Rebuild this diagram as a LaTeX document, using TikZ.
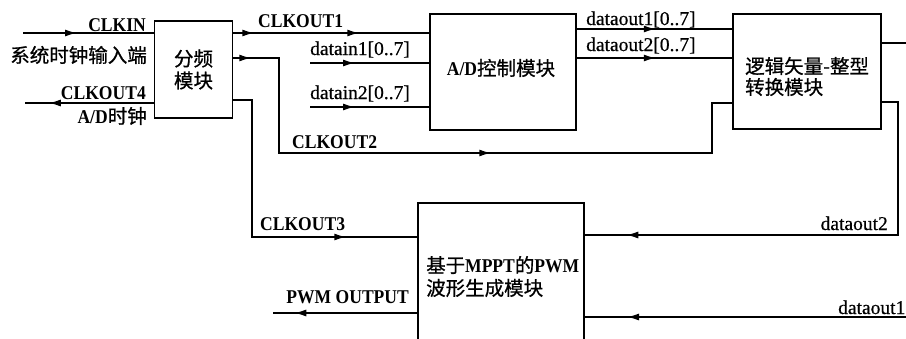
\documentclass[tikz,border=0pt]{standalone}
\usepackage{fontspec}
\setmainfont{Liberation Serif}
\newfontfamily\cjk[FakeBold=0.8]{Noto Sans CJK SC}
\newfontfamily\condb[FakeStretch=0.9]{Liberation Serif}
\newfontfamily\lowf[FakeBold=0.6]{Liberation Serif}
\usetikzlibrary{arrows.meta,decorations.markings}
\tikzset{
  wire/.style={line width=1.5pt},
  box/.style={draw, line width=1.5pt, inner sep=0pt},
  ma/.style={postaction={decorate, decoration={markings, mark=at position #1 with {\arrow{Latex[length=12pt,width=7pt]}}}}},
  capl/.style={inner sep=0pt, font=\fontsize{19.5}{22}\selectfont\condb\bfseries},
  lowl/.style={inner sep=0pt, font=\fontsize{19.5}{22}\selectfont\lowf},
  cjkl/.style={inner sep=0pt, font=\fontsize{19.5}{22.5}\selectfont\cjk, align=left},
}
\newcommand{\lat}[1]{{\condb\bfseries #1}}
\begin{document}
\begin{tikzpicture}[x=1pt,y=-1pt]
\clip (0,0) rectangle (906,338);
% boxes
\node[box, minimum width=78pt, minimum height=97pt, align=center, font=\fontsize{19.5}{22}\selectfont\cjk] (div) at (193.5,69.5) {分频\\模块};
\node[box, minimum width=146pt, minimum height=116pt] (ad) at (503,72) {};
\node[box, minimum width=148pt, minimum height=115pt] (lg) at (807,71.5) {};
\node[box, minimum width=166pt, minimum height=150pt] (pwm) at (501,278) {};
% box texts
\node[cjkl, anchor=center] (tad) at (501,68) {\lat{A/D}控制模块};
\node[cjkl, anchor=west] (tlg1) at (745,66) {逻辑矢量-整型};
\node[cjkl, anchor=west] (tlg2) at (745,87) {转换模块};
\node[cjkl, anchor=west] (tpw1) at (426,265) {基于\lat{MPPT}的\lat{PWM}};
\node[cjkl, anchor=west] (tpw2) at (426,288) {波形生成模块};
% coordinates
\coordinate (clkin0) at (23,33);
\coordinate (clk4e) at (25,103);
\coordinate (di1) at (310,63);
\coordinate (di2) at (310,107);
\coordinate (c2a) at (279,58);
\coordinate (c2b) at (279,153);
\coordinate (c2c) at (712,153);
\coordinate (c2d) at (712,103);
\coordinate (c3a) at (252,100);
\coordinate (c3b) at (252,237);
\coordinate (r1) at (906,43);
\coordinate (r2a) at (898,102);
\coordinate (r2b) at (898,235);
\coordinate (d1s) at (906,317);
\coordinate (pwmo) at (273,313);
% wires
\draw[wire, ma=54pt] (clkin0) -- (clkin0 -| div.west);
\draw[wire, ma=105pt] (div.west |- clk4e) -- (clk4e);
\draw[wire, ma=21pt, ma=126pt] (div.east |- clkin0) -- (ad.west |- clkin0);
\draw[wire, ma=18pt, ma=353pt] (div.east |- c2a) -- (c2a) -- (c2b) -- (c2c) -- (c2d) -- (lg.west |- c2d);
\draw[wire, ma=250pt] (div.east |- c3a) -- (c3a) -- (c3b) -- (pwm.west |- c3b);
\draw[wire, ma=45pt] (di1) -- (ad.west |- di1);
\draw[wire, ma=45pt] (di2) -- (ad.west |- di2);
\draw[wire, ma=79pt] (ad.east |- 0,29) -- (lg.west |- 0,29);
\draw[wire, ma=79pt] (ad.east |- 0,58) -- (lg.west |- 0,58);
\draw[wire] (lg.east |- r1) -- (r1);
\draw[wire, ma=421pt] (lg.east |- r2a) -- (r2a) -- (r2b) -- (pwm.east |- r2b);
\draw[wire, ma=279pt] (d1s) -- (pwm.east |- d1s);
\draw[wire, ma=123pt] (pwm.west |- pwmo) -- (pwmo);
% labels
\node[capl, anchor=base east] (lclkin) at (146,31) {CLKIN};
\node[cjkl, anchor=east] (lsys) at (147,55) {系统时钟输入端};
\node[capl, anchor=base east] (lclk4) at (146,99) {CLKOUT4};
\node[cjkl, anchor=east] (lad) at (147,116) {\lat{A/D}时钟};
\node[capl, anchor=base west] (lclk1) at (258,27) {CLKOUT1};
\node[lowl, anchor=base west] (ldi1) at (310,55) {datain1[0..7]};
\node[lowl, anchor=base west] (ldi2) at (310,99) {datain2[0..7]};
\node[capl, anchor=base west] (lclk2) at (292,148) {CLKOUT2};
\node[lowl, anchor=base west] (ldo1) at (586,25) {dataout1[0..7]};
\node[lowl, anchor=base west] (ldo2) at (586,51) {dataout2[0..7]};
\node[capl, anchor=base west] (lclk3) at (260,230) {CLKOUT3};
\node[capl, anchor=base east] (lpwm) at (409,303) {PWM OUTPUT};
\node[lowl, anchor=base east] (ld2) at (888,230) {dataout2};
\node[lowl, anchor=base west] (ld1) at (838,314) {dataout1};
\end{tikzpicture}
\end{document}
